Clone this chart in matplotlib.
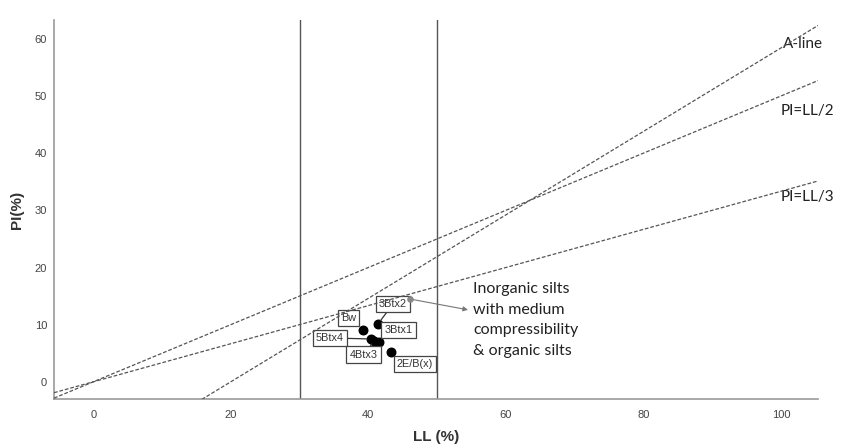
import numpy as np
import matplotlib
matplotlib.use("Agg")
import matplotlib.pyplot as plt

# soil samples (LL, PI)
samples = ["Bw", "3Btx2", "5Btx4", "4Btx3", "3Btx1", "2E/B(x)"]
ll = [39.3, 41.4, 40.4, 40.9, 41.5, 43.3]
pi = [9.1, 10.1, 7.5, 7.2, 7.0, 5.2]

# label offsets in pixels (dx, dy) and whether a leader line is drawn
label_off = [(-15, 12), (15, 20), (-41, 1), (-11, -14), (20, 12), (24, -12)]
leader = [False, True, True, True, False, False]

xticks = [0, 20, 40, 60, 80, 100]
yticks = [0, 10, 20, 30, 40, 50, 60]
ll_bounds = [30, 50]

note_pt = (46.0, 14.5)
note_text = "Inorganic silts\nwith medium\ncompressibility\n& organic silts"

plt.rcParams["font.family"] = ["Liberation Sans", "DejaVu Sans"]

fig = plt.figure(figsize=(8.41, 4.48), dpi=100)
ax = fig.add_axes([0.0642, 0.1094, 0.9085, 0.846])
xmin, xmax = -5.7, 105.4
ax.set_xlim(xmin, xmax)
ax.set_ylim(-3.0, 63.3)

xs = np.array([xmin, xmax])
line_kw = dict(color="#555555", linestyle=(0, (3, 1.5)), linewidth=0.9, zorder=6)
ax.plot(xs, 0.73 * (xs - 20), **line_kw)
ax.plot(xs, xs / 2, **line_kw)
ax.plot(xs, xs / 3, **line_kw)

for v in ll_bounds:
    ax.axvline(v, color="#555555", linewidth=1.0)

txt_font = ["Lato", "DejaVu Sans"]
ax.text(100.3, 59.1, "A-line", family=txt_font, fontsize=11, color="#222222", va="center")
ax.text(100.0, 47.4, "PI=LL/2", family=txt_font, fontsize=11, color="#222222", va="center")
ax.text(100.0, 32.4, "PI=LL/3", family=txt_font, fontsize=11, color="#222222", va="center")

ax.scatter(ll, pi, s=38, color="black", zorder=4)

for name, x, y, off, ld in zip(samples, ll, pi, label_off, leader):
    ax.annotate(name, (x, y), xytext=off, textcoords="offset pixels",
                ha="center", va="center", fontsize=7.8, color="#333333",
                bbox=dict(boxstyle="square,pad=0.3", fc="white", ec="#444444", lw=0.9),
                arrowprops=dict(arrowstyle="-", color="#333333", lw=0.9,
                                shrinkA=0, shrinkB=3) if ld else None,
                zorder=5)

ax.scatter([note_pt[0]], [note_pt[1]], s=14, color="#888888", zorder=7)
ax.annotate("", xy=(54.5, 12.6), xytext=note_pt,
            arrowprops=dict(arrowstyle="-|>", color="#777777", lw=0.8,
                            mutation_scale=7, shrinkA=2, shrinkB=0))
ax.text(55.3, 17.4, note_text, family=txt_font, fontsize=11.5, color="#222222",
        va="top", ha="left", linespacing=1.58)

ax.set_xticks(xticks)
ax.set_yticks(yticks)
ax.tick_params(length=0, labelsize=8, colors="#444444")
ax.tick_params(axis="x", pad=8)
ax.tick_params(axis="y", pad=5)
ax.spines["top"].set_visible(False)
ax.spines["right"].set_visible(False)
ax.spines["left"].set_color("#999999")
ax.spines["bottom"].set_color("#999999")
ax.spines["left"].set_linewidth(1.2)
ax.spines["bottom"].set_linewidth(1.2)

ax.set_xlabel("LL (%)", fontsize=11, fontweight="bold", color="#333333", labelpad=7)
ax.set_ylabel("PI(%)", fontsize=11, fontweight="bold", color="#333333", labelpad=8)

fig.savefig("out.png", dpi=100)
